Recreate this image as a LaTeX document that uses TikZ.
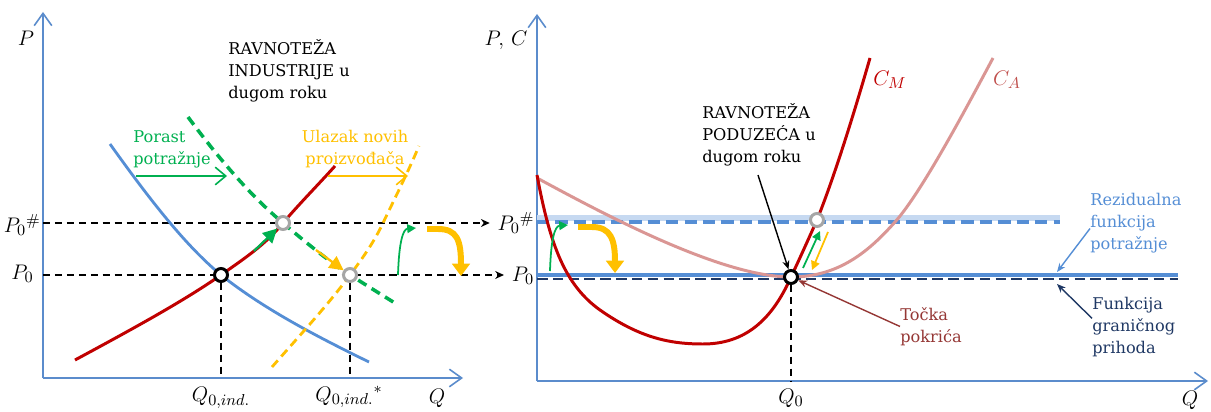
\documentclass[tikz,border=0pt]{standalone}
\usepackage{fontspec}
\usepackage{amsmath}
\usepackage{xcolor}
\newfontfamily\notefont{DejaVu Serif}
\definecolor{axisblue}{RGB}{91,140,204}
\definecolor{demblue}{RGB}{85,142,213}
\definecolor{lightband}{RGB}{198,217,241}
\definecolor{navy}{RGB}{31,56,100}
\definecolor{crimson}{RGB}{192,0,0}
\definecolor{rosy}{RGB}{218,150,148}
\definecolor{rosytext}{RGB}{192,80,77}
\definecolor{leaf}{RGB}{0,176,80}
\definecolor{gold}{RGB}{255,192,0}
\definecolor{ashgray}{RGB}{166,166,166}
\definecolor{brick}{RGB}{149,55,53}
\usepackage{tikz}
\usetikzlibrary{arrows.meta,positioning}

\begin{document}
\begin{tikzpicture}[x=0.02cm, y=-0.02cm, >=Stealth,
    every node/.style={font=\notefont\fontsize{9.2}{12.5}\selectfont}]
    \tikzstyle{axisline}=[draw=axisblue, line width=0.9pt, -{Straight Barb[length=7pt,width=10pt]}]
    \tikzstyle{guideline}=[black, line width=0.8pt, dash pattern=on 4pt off 2.8pt]
    \tikzstyle{eqpt}=[circle, draw=black, fill=white, line width=1.7pt, minimum size=2.6mm, inner sep=0pt]
    \tikzstyle{newpt}=[eqpt, draw=ashgray]
    \tikzstyle{notetext}=[align=left, anchor=north west, inner sep=0pt]
    \tikzstyle{mathlbl}=[font=\fontsize{13}{15}\selectfont, inner sep=0pt]
    \tikzstyle{shiftarrow}=[line width=0.9pt, -{Straight Barb[length=6pt,width=10pt]}]
    \tikzstyle{movearrow}=[line width=1.3pt, -{Triangle[length=8pt,width=8pt]}]
    \tikzstyle{smallmove}=[line width=1pt, -{Triangle[length=5pt,width=5pt]}]
    \tikzstyle{bigturn}=[gold, line width=3.4pt, -{Triangle[length=7pt,width=10pt]}]
    \tikzstyle{pointer}=[line width=0.8pt, -{Stealth[length=5pt,width=4pt]}]

    \useasboundingbox (0,0) rectangle (1211,412);

    % Axes of both panels
    \coordinate (O1) at (43,378);
    \coordinate (Ytop1) at (43,12);
    \coordinate (Xend1) at (463,378);
    \coordinate (O2) at (537,381);
    \coordinate (Ytop2) at (537,14);
    \coordinate (Xend2) at (1208,381);
    \draw[axisline] (O1) -- (Ytop1);
    \draw[axisline] (O1) -- (Xend1);
    \draw[axisline] (O2) -- (Ytop2);
    \draw[axisline] (O2) -- (Xend2);
    \node[mathlbl] (lblP) at (26,38) {$P$};
    \node[mathlbl] (lblPC) at (506,40) {$P,\,C$};
    \node[mathlbl] (lblQL) at (437,398) {$Q$};
    \node[mathlbl] (lblQR) at (1190,400) {$Q$};

    % Price levels
    \coordinate (LP0h) at (43,223);
    \coordinate (LP0) at (43,275);
    \node[mathlbl, anchor=east] (lblLP0h) at (41,225) {$P_0{}^{\#}$};
    \node[mathlbl, anchor=east] (lblLP0) at (34,274) {$P_0$};
    \node[mathlbl] (lblRP0h) at (516,223) {$P_0{}^{\#}$};
    \node[mathlbl] (lblRP0) at (523,276) {$P_0$};
    \draw[guideline, -{Stealth[length=5pt,width=4.5pt]}, shorten >=1.5mm] (LP0h) -- (LP0h -| lblRP0h.west);
    \draw[guideline, -{Stealth[length=5pt,width=4.5pt]}, shorten >=1.5mm] (LP0) -- (LP0 -| lblRP0.west);

    % Industry: demand and supply
    \draw[demblue, line width=1.6pt] (110,144) .. controls (150,200) and (185,245) .. (221,275)
        .. controls (265,310) and (320,338) .. (369,362);
    \draw[crimson, line width=1.7pt] (75,360) .. controls (140,325) and (185,300) .. (221,275)
        .. controls (245,258) and (265,245) .. (283,223) .. controls (300,203) and (318,185) .. (335,166);
    \draw[leaf, line width=2pt, dash pattern=on 5.5pt off 3.5pt] (188,117) .. controls (220,160) and (250,195) .. (283,223)
        .. controls (310,246) and (330,262) .. (350,275) .. controls (366,285) and (382,295) .. (398,305);
    \draw[gold, line width=1.6pt, dash pattern=on 5pt off 3pt] (272,367) .. controls (300,335) and (328,305) .. (350,275)
        .. controls (365,255) and (375,240) .. (383,223) .. controls (395,198) and (408,172) .. (419,146);

    % Firm: costs and revenue lines
    \draw[lightband, line width=3pt] (537,218) -- (1060,218);
    \draw[demblue, line width=1.8pt, dash pattern=on 7pt off 3.5pt] (537,222) -- (1060,222);
    \draw[demblue, line width=1.8pt] (537,275) -- (1178,275);
    \draw[navy, line width=1.7pt, dash pattern=on 6pt off 3pt] (537,279) -- (1178,279);
    \draw[rosy, line width=1.7pt] (537,178) .. controls (600,212) and (720,277) .. (791,277)
        .. controls (840,277) and (870,250) .. (895,222) .. controls (920,194) and (960,120) .. (993,58);
    \draw[crimson, line width=1.7pt] (537,175) .. controls (550,245) and (565,285) .. (600,310)
        .. controls (640,338) and (670,344) .. (703,344) .. controls (745,344) and (772,320) .. (791,277)
        .. controls (800,258) and (808,240) .. (817,220) .. controls (835,175) and (855,110) .. (870,58);
    \node[mathlbl, text=crimson] (lblCM) at (890,80) {$C_M$};
    \node[mathlbl, text=rosytext] (lblCA) at (1007,80) {$C_A$};

    % Equilibrium points
    \node[eqpt] (E0) at (221,275) {};
    \node[newpt] (E1) at (283,223) {};
    \node[newpt] (E2) at (350,275) {};
    \node[eqpt] (F0) at (791,277) {};
    \node[newpt] (F1) at (817,220) {};
    \draw[guideline] (E0.south) -- (E0.south |- O1);
    \draw[guideline] (E2.south) -- (E2.south |- O1);
    \draw[guideline] (F0.south) -- (F0.south |- O2);
    \node[mathlbl] (lblQ0i) at (221,398) {$Q_{0,ind.}$};
    \node[mathlbl] (lblQ0s) at (349,397) {$Q_{0,ind.}{}^{*}$};
    \node[mathlbl] (lblQ0) at (791,398) {$Q_0$};

    % Labels
    \node[notetext] (titleL) at (228,39) {RAVNOTEŽA\\INDUSTRIJE u\\dugom roku};
    \node[notetext] (titleR) at (702,103) {RAVNOTEŽA\\PODUZEĆA u\\dugom roku};
    \node[notetext, text=leaf] (porast) at (133,130) {Porast\\potražnje};
    \node[notetext, align=center, anchor=north, text=gold] (ulazak) at (355,130) {Ulazak novih\\proizvođača};
    \node[notetext, text=brick] (tocka) at (900,307) {Točka\\pokrića};
    \node[notetext, text=demblue] (rezid) at (1090,193) {Rezidualna\\funkcija\\potražnje};
    \node[notetext, text=navy] (granic) at (1092,297) {Funkcija\\graničnog\\prihoda};

    % Shifts
    \coordinate (gs) at (136,176);
    \coordinate (ge) at (227,176);
    \coordinate (ys) at (328,176);
    \coordinate (ye) at (408,176);
    \draw[leaf, shiftarrow] (gs) -- (ge);
    \draw[gold, shiftarrow] (ys) -- (ye);
    \coordinate (g1) at (254,251);
    \coordinate (y1) at (316,250);
    \draw[leaf, movearrow] (g1) -- (E1);
    \draw[gold, movearrow] (y1) -- (E2);
    \coordinate (g2) at (803,268);
    \coordinate (g2t) at (820,231);
    \coordinate (y2) at (828,232);
    \coordinate (y2t) at (812,270);
    \draw[leaf, smallmove] (g2) -- (g2t);
    \draw[gold, smallmove] (y2) -- (y2t);

    % Price up, then back down
    \coordinate (gu1) at (398,275);
    \coordinate (gu1t) at (416,228);
    \coordinate (gu2) at (550,271);
    \coordinate (gu2t) at (568,225);
    \draw[leaf, smallmove] (gu1) .. controls (399,242) and (403,229) .. (gu1t);
    \draw[leaf, smallmove] (gu2) .. controls (551,238) and (555,226) .. (gu2t);
    \coordinate (yd1) at (427,229);
    \coordinate (yd1t) at (461,276);
    \coordinate (yd2) at (578,227);
    \coordinate (yd2t) at (615,273);
    \draw[bigturn] (yd1) -- (438,229) .. controls (457,229) and (461,240) .. (yd1t);
    \draw[bigturn] (yd2) -- (592,227) .. controls (611,227) and (615,240) .. (yd2t);

    % Pointers to lines and points
    \coordinate (tR) at (758,175);
    \coordinate (rzTip) at (1057,272);
    \coordinate (grTip) at (1057,284);
    \draw[pointer, black] (tR) -- (F0);
    \draw[pointer, brick] (tocka.west) -- (F0);
    \draw[pointer, demblue] ([yshift=-3pt]rezid.west) -- (rzTip);
    \draw[pointer, navy] ([yshift=5pt]granic.west) -- (grTip);
\end{tikzpicture}
\end{document}
